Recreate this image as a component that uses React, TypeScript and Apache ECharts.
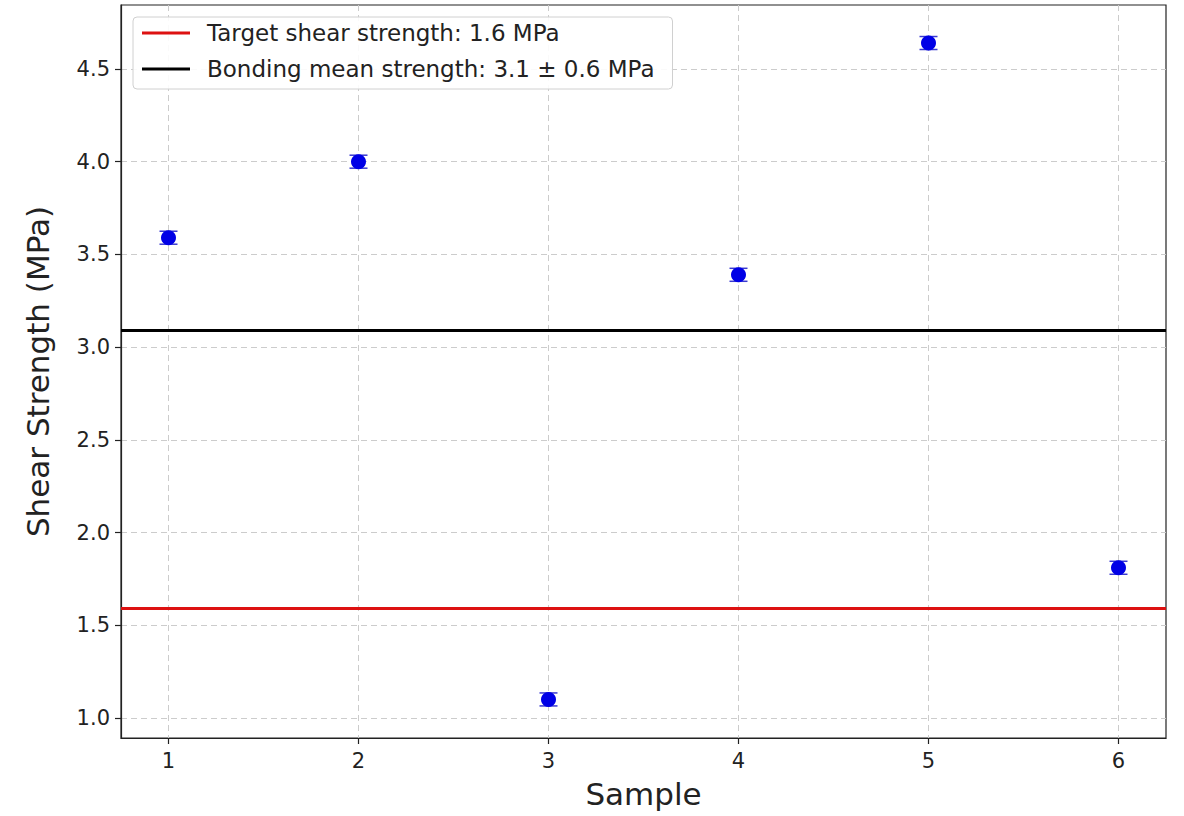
import React, { useEffect, useRef } from "react";
import * as echarts from "echarts";

const samples = [1, 2, 3, 4, 5, 6];
const strengths = [3.59, 4.0, 1.1, 3.39, 4.64, 1.81];
const errors = [0.035, 0.035, 0.035, 0.035, 0.035, 0.035];
const targetStrength = 1.59;
const meanStrength = 3.087;
const xTicks = [1, 2, 3, 4, 5, 6];
const yTicks = [1.0, 1.5, 2.0, 2.5, 3.0, 3.5, 4.0, 4.5];
const targetLabel = "Target shear strength: 1.6 MPa";
const meanLabel = "Bonding mean strength: 3.1 ± 0.6 MPa";

const FONT = "DejaVu Sans";

export default function App() {
  const ref = useRef<HTMLDivElement>(null);
  useEffect(() => {
    if (!ref.current) return;
    const chart = echarts.init(ref.current, undefined, { renderer: "svg" });
    const points = samples.map((s, i) => [s, strengths[i]]);
    const bars = samples.map((s, i) => [s, strengths[i] - errors[i], strengths[i] + errors[i]]);
    chart.setOption({
      animation: false,
      backgroundColor: "#ffffff",
      grid: {
        left: 121,
        top: 5,
        width: 1045,
        height: 733,
        show: true,
        borderColor: "#222",
        borderWidth: 1.2,
        backgroundColor: "transparent",
      },
      legend: {
        orient: "vertical",
        left: 133,
        top: 17,
        padding: [3, 18, 7, 9],
        backgroundColor: "rgba(255,255,255,0.9)",
        borderColor: "#d0d0d0",
        borderWidth: 1,
        borderRadius: 4,
        itemWidth: 48,
        itemHeight: 3,
        itemGap: 10,
        icon: "rect",
        data: [targetLabel, meanLabel],
        textStyle: {
          fontFamily: FONT,
          fontSize: 23,
          color: "#222",
          lineHeight: 26,
          padding: [0, 0, 0, 12],
        },
      },
      xAxis: {
        type: "value",
        min: 0.75,
        max: 6.25,
        name: "Sample",
        nameLocation: "middle",
        nameGap: 40,
        nameTextStyle: { fontFamily: FONT, fontSize: 31, color: "#222" },
        axisLine: { show: true, onZero: false, lineStyle: { color: "#222", width: 1.2 } },
        axisTick: { show: true, length: 6, customValues: xTicks, lineStyle: { color: "#222", width: 1.2 } },
        axisLabel: {
          customValues: xTicks,
          margin: 12,
          fontFamily: FONT,
          fontSize: 21,
          color: "#222",
        },
        splitLine: { show: true, lineStyle: { color: "#cccccc", type: [6, 4], width: 1 } },
      },
      yAxis: {
        type: "value",
        min: 0.892,
        max: 4.845,
        name: "Shear Strength (MPa)",
        nameLocation: "middle",
        nameGap: 68,
        nameTextStyle: { fontFamily: FONT, fontSize: 31, color: "#222" },
        axisLine: { show: true, onZero: false, lineStyle: { color: "#222", width: 1.2 } },
        axisTick: { show: true, length: 6, customValues: yTicks, lineStyle: { color: "#222", width: 1.2 } },
        axisLabel: {
          customValues: yTicks,
          margin: 11,
          fontFamily: FONT,
          fontSize: 21,
          color: "#222",
          formatter: (v: number) => v.toFixed(1),
        },
        splitLine: { show: true, lineStyle: { color: "#cccccc", type: [6, 4], width: 1 } },
      },
      series: [
        {
          name: targetLabel,
          type: "line",
          data: [],
          color: "#dd1111",
          lineStyle: { color: "#dd1111", width: 3 },
          markLine: {
            silent: true,
            symbol: "none",
            label: { show: false },
            lineStyle: { color: "#dd1111", width: 3, type: "solid" },
            data: [{ yAxis: targetStrength }],
          },
        },
        {
          name: meanLabel,
          type: "line",
          data: [],
          color: "#000000",
          lineStyle: { color: "#000000", width: 3 },
          markLine: {
            silent: true,
            symbol: "none",
            label: { show: false },
            lineStyle: { color: "#000000", width: 3, type: "solid" },
            data: [{ yAxis: meanStrength }],
          },
        },
        {
          type: "custom",
          silent: true,
          data: bars,
          encode: { x: 0, y: [1, 2] },
          renderItem: (params: any, api: any) => {
            const x = api.value(0);
            const lo = api.coord([x, api.value(1)]);
            const hi = api.coord([x, api.value(2)]);
            const hw = 9;
            const st = { stroke: "#3a3ad0", lineWidth: 1.5 };
            return {
              type: "group",
              children: [
                { type: "line", shape: { x1: lo[0], y1: lo[1], x2: hi[0], y2: hi[1] }, style: st },
                { type: "line", shape: { x1: lo[0] - hw, y1: lo[1], x2: lo[0] + hw, y2: lo[1] }, style: st },
                { type: "line", shape: { x1: hi[0] - hw, y1: hi[1], x2: hi[0] + hw, y2: hi[1] }, style: st },
              ],
            };
          },
          z: 3,
        },
        {
          type: "scatter",
          data: points,
          symbol: "circle",
          symbolSize: 15,
          itemStyle: { color: "#0000e6", opacity: 1 },
          z: 4,
        },
      ],
    });
    return () => chart.dispose();
  }, []);
  return (
    <div
      ref={ref}
      style={{ position: "absolute", left: 0, top: 0, width: 1184, height: 816 }}
    />
  );
}
